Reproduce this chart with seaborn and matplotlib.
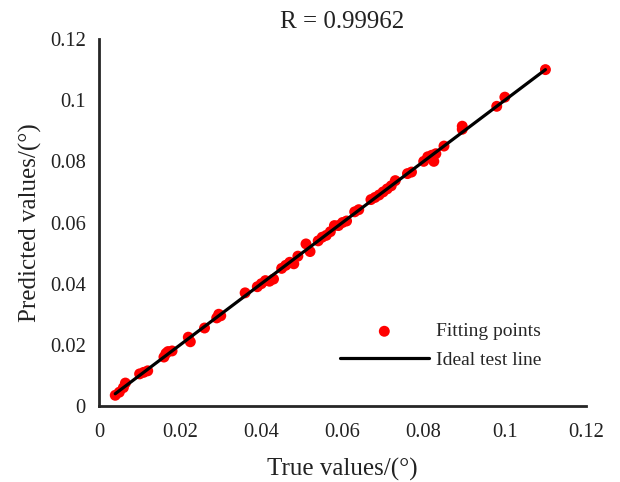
import numpy as np
import pandas as pd
import matplotlib
matplotlib.use("Agg")
import matplotlib.pyplot as plt
import seaborn as sns

true_vals = [0.0040, 0.0050, 0.0060, 0.0065, 0.0100, 0.0110, 0.0120,
             0.0160, 0.0165, 0.0170, 0.0180, 0.0220, 0.0225, 0.0260,
             0.0290, 0.0295, 0.0300, 0.0360, 0.0390, 0.0400, 0.0410,
             0.0420, 0.0430, 0.0450, 0.0460, 0.0470, 0.0480, 0.0490,
             0.0510, 0.0520, 0.0540, 0.0550, 0.0560, 0.0570, 0.0580,
             0.0590, 0.0600, 0.0610, 0.0630, 0.0640, 0.0670, 0.0680,
             0.0690, 0.0700, 0.0710, 0.0720, 0.0730, 0.0760, 0.0770,
             0.0800, 0.0810, 0.0820, 0.0825, 0.0830, 0.0850, 0.0895,
             0.0895, 0.0980, 0.1000, 0.1100]
pred_vals = [0.0035, 0.0045, 0.0060, 0.0075, 0.0105, 0.0110, 0.0115,
             0.0160, 0.0172, 0.0178, 0.0180, 0.0225, 0.0210, 0.0255,
             0.0288, 0.0300, 0.0295, 0.0370, 0.0390, 0.0400, 0.0410,
             0.0408, 0.0415, 0.0450, 0.0460, 0.0470, 0.0465, 0.0490,
             0.0530, 0.0505, 0.0540, 0.0552, 0.0558, 0.0570, 0.0590,
             0.0590, 0.0600, 0.0605, 0.0635, 0.0642, 0.0675, 0.0682,
             0.0690, 0.0700, 0.0710, 0.0720, 0.0737, 0.0760, 0.0765,
             0.0800, 0.0815, 0.0820, 0.0800, 0.0825, 0.0850, 0.0905,
             0.0915, 0.0980, 0.1010, 0.1100]

title_text = "R = 0.99962"
x_label = "True values/(°)"
y_label = "Predicted values/(°)"
tick_vals = [0, 0.02, 0.04, 0.06, 0.08, 0.1, 0.12]
tick_labels = ["0", "0.02", "0.04", "0.06", "0.08", "0.1", "0.12"]

sns.set_theme(style="white")
plt.rcParams['font.family'] = ['Liberation Serif', 'DejaVu Serif']

pts = pd.DataFrame({"true": true_vals, "pred": pred_vals})
lo, hi = min(true_vals), max(true_vals)
line = pd.DataFrame({"x": [lo, hi], "y": [lo, hi]})

fig = plt.figure(figsize=(6.2, 4.82), dpi=100)
ax = fig.add_axes([0.1597, 0.1577, 0.7855, 0.7613])

sns.scatterplot(data=pts, x="true", y="pred", ax=ax, color="#ff0000",
                s=62, edgecolor="none", linewidth=0, zorder=2,
                label="Fitting points")
sns.lineplot(data=line, x="x", y="y", ax=ax, color="black", linewidth=2.3,
             zorder=3, label="Ideal test line")

ax.set_xlim(0, 0.12)
ax.set_ylim(0, 0.12)
ax.set_xticks(tick_vals)
ax.set_xticklabels(tick_labels)
ax.set_yticks(tick_vals)
ax.set_yticklabels(tick_labels)
ax.tick_params(direction="in", length=4, width=2, color="#262626",
               labelsize=14.8, labelcolor="#222222")
ax.tick_params(axis="x", pad=12.5)
ax.tick_params(axis="y", pad=9.5)
for side in ["top", "right"]:
    ax.spines[side].set_visible(False)
for side in ["left", "bottom"]:
    ax.spines[side].set_linewidth(2)
    ax.spines[side].set_color("#262626")

ax.set_xlabel(x_label, fontsize=18, color="#222222", labelpad=11)
ax.set_ylabel(y_label, fontsize=18, color="#222222", labelpad=6)
ax.set_title(title_text, fontsize=18, color="#222222", pad=8)

ax.legend(loc="upper left", bbox_to_anchor=(0.478, 0.248), frameon=False,
          fontsize=14, handlelength=4.6, handletextpad=0.36,
          labelspacing=0.55, borderaxespad=0, markerscale=1.0)

fig.savefig("out.png", dpi=100)
